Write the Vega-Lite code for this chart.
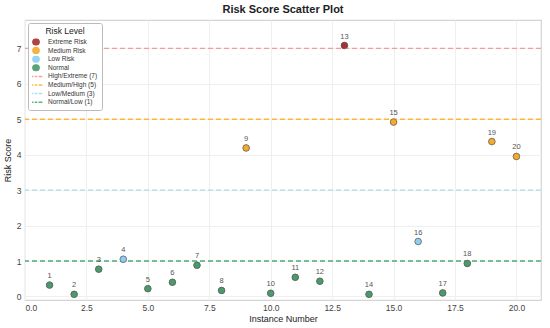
{
  "$schema": "https://vega.github.io/schema/vega-lite/v6.json",
  "width": 516,
  "height": 280,
  "autosize": "none",
  "padding": {"left": 25, "top": 20, "right": 9, "bottom": 28},
  "config": {
    "font": "Liberation Sans",
    "view": {"stroke": "#d4d4d4", "strokeWidth": 1.2}
  },
  "title": {"text": "Risk Score Scatter Plot", "fontSize": 11, "fontWeight": "bold", "color": "#222222", "offset": 5},
  "datasets": {
    "points": [
      {"instance": 1, "score": 0.32, "level": "Normal"},
      {"instance": 2, "score": 0.06, "level": "Normal"},
      {"instance": 3, "score": 0.77, "level": "Normal"},
      {"instance": 4, "score": 1.05, "level": "Low Risk"},
      {"instance": 5, "score": 0.22, "level": "Normal"},
      {"instance": 6, "score": 0.40, "level": "Normal"},
      {"instance": 7, "score": 0.88, "level": "Normal"},
      {"instance": 8, "score": 0.17, "level": "Normal"},
      {"instance": 9, "score": 4.19, "level": "Medium Risk"},
      {"instance": 10, "score": 0.09, "level": "Normal"},
      {"instance": 11, "score": 0.54, "level": "Normal"},
      {"instance": 12, "score": 0.43, "level": "Normal"},
      {"instance": 13, "score": 7.08, "level": "Extreme Risk"},
      {"instance": 14, "score": 0.06, "level": "Normal"},
      {"instance": 15, "score": 4.92, "level": "Medium Risk"},
      {"instance": 16, "score": 1.55, "level": "Low Risk"},
      {"instance": 17, "score": 0.10, "level": "Normal"},
      {"instance": 18, "score": 0.93, "level": "Normal"},
      {"instance": 19, "score": 4.37, "level": "Medium Risk"},
      {"instance": 20, "score": 3.95, "level": "Medium Risk"}
    ],
    "thresholds": [
      {"score": 7, "level": "High/Extreme (7)"},
      {"score": 5, "level": "Medium/High (5)"},
      {"score": 3, "level": "Low/Medium (3)"},
      {"score": 1, "level": "Normal/Low (1)"}
    ]
  },
  "encoding": {
    "x": {
      "field": "instance", "type": "quantitative",
      "scale": {"domain": [0, 21], "nice": false, "zero": false},
      "axis": {"values": [0, 2.5, 5, 7.5, 10, 12.5, 15, 17.5, 20], "format": ".1f", "title": "Instance Number", "grid": true, "gridColor": "#efefef", "domain": false, "ticks": false, "labelFontSize": 8.5, "labelColor": "#444444", "titleFontSize": 9, "titleFontWeight": "normal", "titleColor": "#222222", "labelPadding": 3, "titlePadding": 3}
    },
    "y": {
      "field": "score", "type": "quantitative",
      "scale": {"domain": [-0.1, 7.8], "nice": false, "zero": false},
      "axis": {"values": [0, 1, 2, 3, 4, 5, 6, 7], "title": "Risk Score", "grid": true, "gridColor": "#efefef", "domain": false, "ticks": false, "labelFontSize": 8.5, "labelColor": "#444444", "titleFontSize": 9, "titleFontWeight": "normal", "titleColor": "#222222", "labelPadding": 4, "titlePadding": 4}
    }
  },
  "layer": [
    {
      "data": {"name": "points"},
      "mark": {"type": "point", "filled": true, "size": 42, "opacity": 0.9, "stroke": "#555555", "strokeWidth": 0.6},
      "encoding": {
        "color": {
          "field": "level", "type": "nominal",
          "scale": {
            "domain": ["Extreme Risk", "Medium Risk", "Low Risk", "Normal", "High/Extreme (7)", "Medium/High (5)", "Low/Medium (3)", "Normal/Low (1)"],
            "range": ["#a8302e", "#f5ac2c", "#8ccff2", "#4a9a6a", "#f89c8c", "#ffb833", "#a8dcf0", "#4caa72"]
          },
          "legend": {
            "title": "Risk Level", "orient": "none", "legendX": 3, "legendY": 3,
            "titleFontSize": 8.5, "titleFontWeight": "normal", "titleColor": "#222222", "titleAnchor": "middle", "titlePadding": 3,
            "labelFontSize": 6.5, "labelColor": "#333333", "symbolSize": 40, "labelOffset": 8,
            "clipHeight": 7, "rowPadding": 1.6,
            "strokeColor": "#bbbbbb", "fillColor": "white", "padding": 4, "cornerRadius": 2,
            "encode": {
              "symbols": {
                "update": {
                  "size": {"value": 40},
                  "stroke": [{"test": "indexof(datum.value, '(') >= 0", "scale": "color", "field": "value"}, {"value": "#555555"}],
                  "strokeWidth": [{"test": "indexof(datum.value, '(') >= 0", "value": 1.3}, {"value": 0.6}],
                  "opacity": {"value": 0.9}
                }
              }
            }
          }
        },
        "shape": {
          "field": "level", "type": "nominal",
          "scale": {
            "domain": ["Extreme Risk", "Medium Risk", "Low Risk", "Normal", "High/Extreme (7)", "Medium/High (5)", "Low/Medium (3)", "Normal/Low (1)"],
            "range": ["circle", "circle", "circle", "circle", "M-2,0H-0.8M-0.4,0H0.4M0.8,0H2", "M-2,0H-0.8M-0.4,0H0.4M0.8,0H2", "M-2,0H-0.8M-0.4,0H0.4M0.8,0H2", "M-2,0H-0.8M-0.4,0H0.4M0.8,0H2"]
          },
          "legend": {"title": "Risk Level"}
        }
      }
    },
    {
      "data": {"name": "thresholds"},
      "mark": {"type": "rule", "strokeDash": [5, 3], "strokeWidth": 1.3},
      "encoding": {
        "x": null,
        "color": {"field": "level", "type": "nominal"}
      }
    },
    {
      "data": {"name": "points"},
      "mark": {"type": "point", "filled": true, "size": 42, "opacity": 0.9, "stroke": "#555555", "strokeWidth": 0.6},
      "encoding": {
        "color": {"field": "level", "type": "nominal"}
      }
    },
    {
      "data": {"name": "points"},
      "mark": {"type": "text", "dy": -9, "fontSize": 7.5, "color": "#555555"},
      "encoding": {
        "text": {"field": "instance", "type": "nominal"}
      }
    }
  ]
}
